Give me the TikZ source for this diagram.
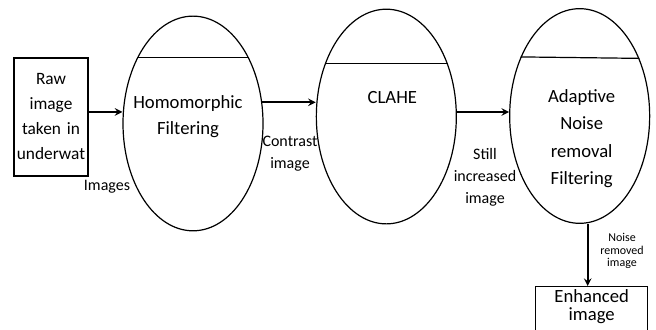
\documentclass[tikz,border=0pt]{standalone}
\usepackage{fontspec}
\setmainfont{Carlito}
\usetikzlibrary{shapes.geometric, arrows}
\tikzstyle{stage} = [ellipse, minimum width=105pt, minimum height=161pt, inner sep=0pt, draw=black, line width=0.9pt]
\tikzstyle{stagetext} = [align=center, font=\fontsize{14}{20}\selectfont]
\tikzstyle{inbox} = [rectangle, minimum width=55.5pt, minimum height=88.5pt, text width=52pt, align=center, inner sep=1pt, draw=black, line width=0.9pt, font=\fontsize{13}{18.75}\selectfont]
\tikzstyle{outbox} = [rectangle, minimum width=84pt, align=center, inner sep=2pt, text depth=20pt, draw=black, line width=0.9pt, font=\fontsize{14}{13.5}\selectfont]
\tikzstyle{lbl} = [align=center, font=\fontsize{12}{16.5}\selectfont]
\tikzstyle{smalllbl} = [align=center, font=\fontsize{9}{9.5}\selectfont]
\tikzstyle{arrow} = [line width=1.5pt,->,>=stealth]

\begin{document}
\begin{tikzpicture}[node distance=145pt]
\useasboundingbox (0,0) rectangle (492pt,-246.75pt);

\node (hom) [stage] at (144.75pt,-92.6pt) {};
\node (raw) [inbox, left of=hom, xshift=38.5pt, yshift=4.9pt] {Raw\\image\\taken in\\underwat};
\node (clahe) [stage, right of=hom, yshift=5.2pt] {};
\node (adapt) [stage, right of=clahe, yshift=0.4pt] {};
\node (enh) [outbox, below of=adapt, node distance=127.5pt, xshift=9pt, anchor=north] {Enhanced\\image};

\node (homtext) [stagetext] at ([xshift=-3.75pt, yshift=5.25pt]hom.center) {Homomorphic\\Filtering};
\node (clahetext) [stagetext] at ([xshift=4.5pt, yshift=14.6pt]clahe.center) {CLAHE};
\node (adapttext) [stagetext, font=\fontsize{14}{20.5}\selectfont] at ([xshift=1.5pt, yshift=-16.9pt]adapt.center) {Adaptive\\Noise\\removal\\Filtering};

\node (images) [lbl] at (80.25pt,-140.25pt) {Images};
\node (contrast) [lbl] at (217.5pt,-115.5pt) {Contrast\\image};
\node (still) [lbl] at (363.75pt,-132.75pt) {Still\\increased\\image};
\node (noise) [smalllbl] at (466.5pt,-188.25pt) {Noise\\removed\\image};

% chords across the top of each ellipse
\draw [line width=0.9pt] (hom.130) -- (hom.50);
\draw [line width=0.9pt] (clahe.139) -- (clahe.41);
\draw [line width=0.9pt] (adapt.135.4) -- (adapt.44.6);

\draw [arrow] ([yshift=3.75pt]raw.east) -- ([yshift=3.75pt]raw.east -| hom.west);
\draw [arrow] (hom.17) -- (hom.17 -| clahe.west);
\draw [arrow] ([yshift=3.4pt]clahe.east) -- ([yshift=3.4pt]clahe.east -| adapt.west);
\draw [arrow] ([xshift=6pt]adapt.south) -- ([xshift=6pt]adapt.south |- enh.north);

\end{tikzpicture}
\end{document}
